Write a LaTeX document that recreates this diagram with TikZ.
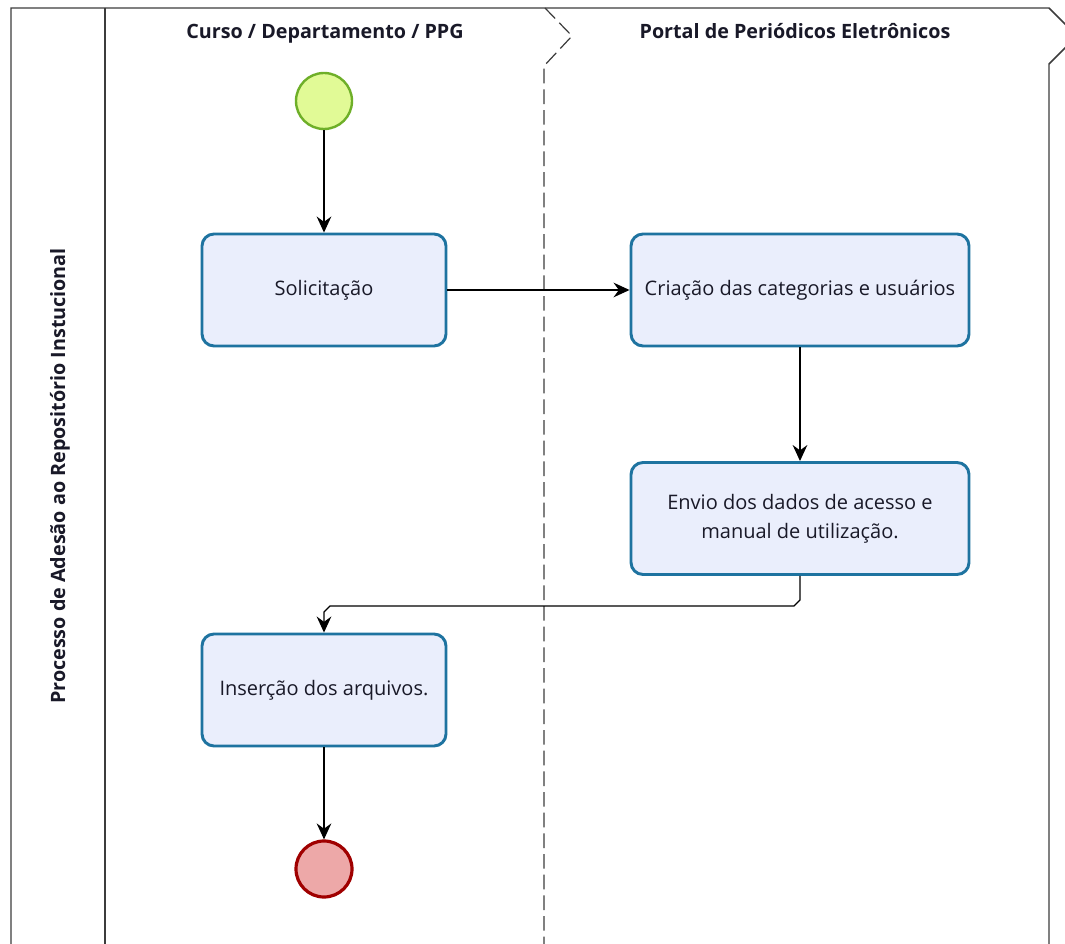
\documentclass[tikz,border=0pt]{standalone}
\usepackage{fontspec}
\setmainfont{Open Sans}
\usetikzlibrary{arrows.meta,calc}
\definecolor{taskfill}{RGB}{234,238,252}
\definecolor{taskdraw}{RGB}{30,115,160}
\definecolor{startfill}{RGB}{225,250,150}
\definecolor{startdraw}{RGB}{110,175,40}
\definecolor{endfill}{RGB}{237,168,168}
\definecolor{enddraw}{RGB}{160,0,0}
\definecolor{txt}{RGB}{25,25,40}
\definecolor{lanegray}{RGB}{60,60,60}
\tikzset{
  task/.style={draw=taskdraw, fill=taskfill, line width=2.2pt, rounded corners=9pt,
    minimum height=84pt, align=center, text=txt, font=\fontsize{15pt}{22pt}\selectfont, inner sep=2pt},
  startev/.style={circle, draw=startdraw, fill=startfill, line width=1.8pt, minimum size=42pt, inner sep=0pt},
  endev/.style={circle, draw=enddraw, fill=endfill, line width=2.4pt, minimum size=42pt, inner sep=0pt},
  flow/.style={draw=black, line width=0.9pt, -{Stealth[length=12pt,width=11pt,inset=4pt]}},
  lanetitle/.style={font=\bfseries\fontsize{14.8pt}{17pt}\selectfont, text=txt},
  frame/.style={draw=lanegray, line width=1.1pt},
  divider/.style={draw=lanegray, line width=0.9pt, dash pattern=on 11pt off 4.5pt}
}
\begin{document}
\begin{tikzpicture}[x=0.75pt,y=-0.75pt]
\useasboundingbox (0,0) rectangle (1065,944);
\clip (0,0) rectangle (1065,944);
\fill[white] (0,0) rectangle (1065,944);
% pool frame
\draw[frame] (11,944) -- (11,8) -- (1049,8) -- (1077,36) -- (1049,64) -- (1049,944);
\draw[frame] (105,8) -- (105,944);
% lane divider
\draw[divider] (545,8) -- (572,36) -- (544,66) -- (544,944);
% titles
\node[lanetitle, anchor=base] (t1) at (325,39) {Curso / Departamento / PPG};
\node[lanetitle, anchor=base] (t2) at (795,39) {Portal de Periódicos Eletrônicos};
\node[lanetitle, rotate=90] (pool) at (60,476) {Processo de Adesão ao Repositório Instucional};
% nodes
\node[startev] (start) at (324,101) {};
\node[task, minimum width=183pt] (sol) at (324,290) {Solicitação};
\node[task, minimum width=253.5pt] (cri) at (800,290) {Criação das categorias e usuários};
\node[task, minimum width=253.5pt] (env) at (800,518.5) {Envio dos dados de acesso e\\manual de utilização.};
\node[task, minimum width=183pt] (ins) at (324,690) {Inserção dos arquivos.};
\node[endev] (end) at (324,869) {};
% flows
\draw[flow] (start) -- (sol);
\draw[flow] (sol) -- (cri);
\draw[flow] (cri) -- (env);
\coordinate (elb) at ($(env.south)+(0,30)$);
\draw[flow] (env.south) -- ($(elb)+(0,-6)$) -- ($(elb)+(-6,0)$) -- ($(ins.north |- elb)+(6,0)$) -- ($(ins.north |- elb)+(0,6)$) -- (ins.north);
\draw[flow] (ins) -- (end);
\end{tikzpicture}
\end{document}
